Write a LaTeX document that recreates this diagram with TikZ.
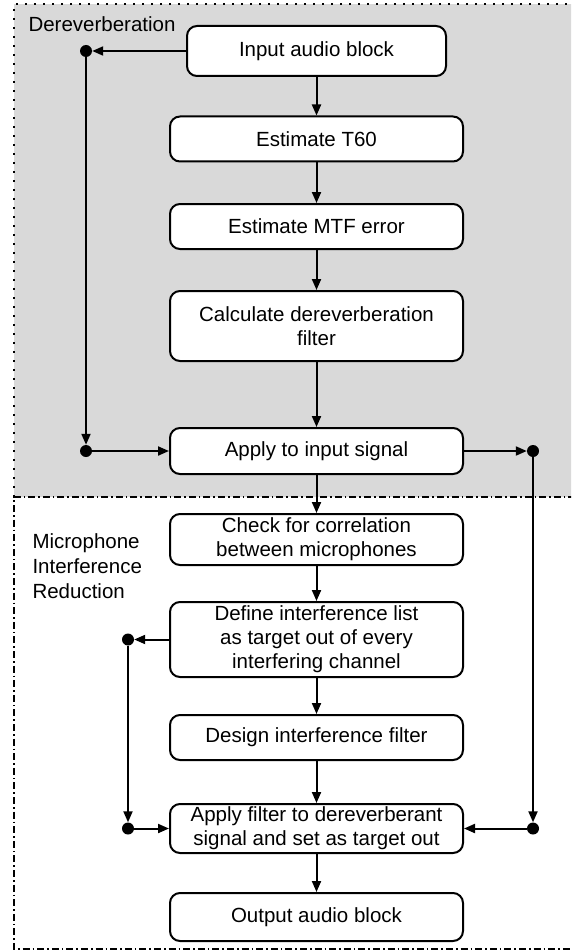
\documentclass[tikz,border=0pt]{standalone}
\usepackage{fontspec}
\setmainfont{Liberation Sans}
\usetikzlibrary{arrows.meta}
\definecolor{regiongray}{HTML}{D9D9D9}
\begin{document}
\begin{tikzpicture}[x=1pt,y=-1pt,
  font=\fontsize{20.5pt}{24pt}\selectfont,
  box/.style={draw=black, line width=2pt, rounded corners=10pt, fill=white,
    align=center, minimum width=293pt, inner sep=0pt},
  dotnode/.style={circle, fill=black, inner sep=0pt, minimum size=12pt},
  flow/.style={line width=2pt, -{Triangle[length=11pt,width=9pt]}},
  plain/.style={line width=2pt},
  dotborder/.style={line width=1.6pt, dash pattern=on 1.6pt off 7.4pt},
  dashdotborder/.style={line width=1.6pt, dash pattern=on 7pt off 3pt on 1.6pt off 3pt}
]
\useasboundingbox (0,0) rectangle (571,952);
\clip (0,0) rectangle (571,952);
% regions
\fill[regiongray] (14,4) rectangle (590,497);
\draw[dotborder] (14,497) -- (14,4) -- (590,4);
\draw[dashdotborder] (590,497) -- (14,497) -- (14,949) -- (590,949);
\node[anchor=base west] (lab1) at (25,32) {Dereverberation};
\node[anchor=base west, align=left, font=\fontsize{20.5pt}{25pt}\selectfont] (lab2) at (29,598) {Microphone\\Interference\\Reduction};
% boxes
\node[box, minimum width=259pt, minimum height=50pt] (in) at (316.5,51) {Input audio block};
\node[box, minimum height=45pt] (t60) at (316.5,139) {Estimate T60};
\node[box, minimum height=45pt] (mtf) at (316.5,226.5) {Estimate MTF error};
\node[box, minimum height=70pt] (calc) at (316.5,326) {Calculate dereverberation\\filter};
\node[box, minimum height=46pt] (apply) at (316.5,451) {Apply to input signal};
\node[box, minimum height=51pt] (check) at (316.5,539.5) {Check for correlation\\between microphones};
\node[box, minimum height=75pt] (define) at (316.5,639.5) {Define interference list\\as target out of every\\interfering channel};
\node[box, minimum height=45pt] (design) at (316.5,737.5) {Design interference filter};
\node[box, minimum height=49pt] (applyf) at (316.5,828.5) {Apply filter to dereverberant\\signal and set as target out};
\node[box, minimum height=48pt] (out) at (316.5,917) {Output audio block};
% junction dots
\node[dotnode] (d1) at (86,51) {};
\node[dotnode] (d2) at (86,451) {};
\node[dotnode] (d3) at (533,451) {};
\node[dotnode] (d4) at (533,828.5) {};
\node[dotnode] (d5) at (128,639.5) {};
\node[dotnode] (d6) at (128,828.5) {};
% main flow
\draw[flow] (in) -- (t60);
\draw[flow] (t60) -- (mtf);
\draw[flow] (mtf) -- (calc);
\draw[flow] (calc) -- (apply);
\draw[flow] (apply) -- (check);
\draw[flow] (check) -- (define);
\draw[flow] (define) -- (design);
\draw[flow] (design) -- (applyf);
\draw[flow] (applyf) -- (out);
% side paths
\draw[flow] (in.west) -- (d1);
\draw[flow] (d1) -- (d2);
\draw[flow] (d2) -- (apply.west);
\draw[flow] (apply.east) -- (d3);
\draw[flow] (d3) -- (d4);
\draw[flow] (d4) -- (applyf.east);
\draw[flow] (define.west) -- (d5);
\draw[flow] (d5) -- (d6);
\draw[flow] (d6) -- (applyf.west);
\end{tikzpicture}
\end{document}
